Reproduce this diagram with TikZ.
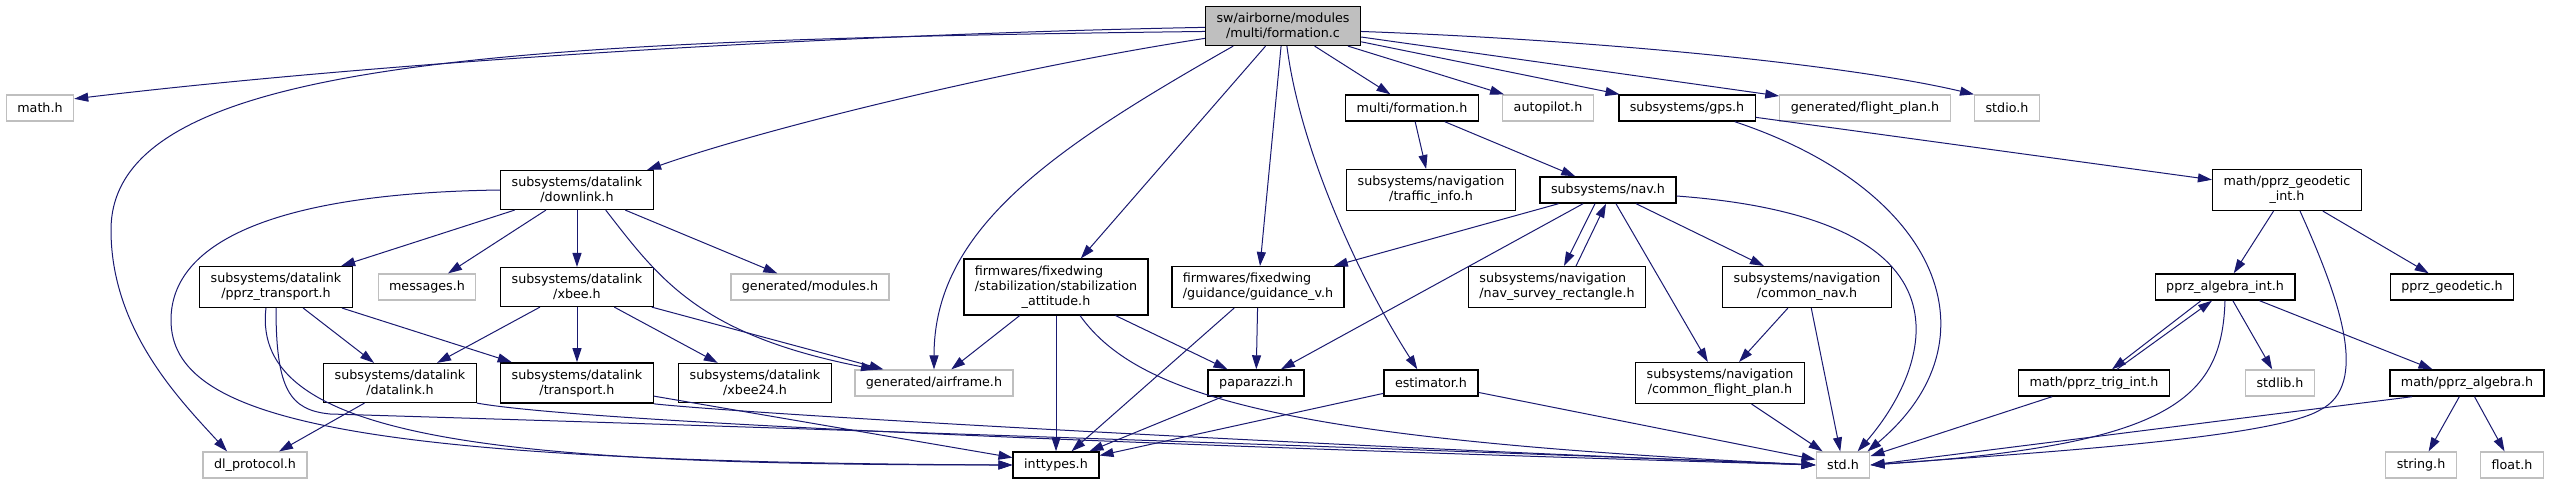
\documentclass[tikz,border=0pt]{standalone}
\usepackage{fontspec}
\setmainfont{DejaVu Sans}
\usetikzlibrary{arrows.meta}
\definecolor{edgeblue}{RGB}{25,25,112}
\definecolor{extgray}{RGB}{191,191,191}
\newcommand{\leftas}[2]{\makebox[0pt][l]{#1}\phantom{#2}}

\begin{document}
\begin{tikzpicture}[
  x=1pt, y=1pt,
  font=\fontsize{12.7}{15}\selectfont,
  >={Triangle[length=14pt,width=9pt]},
  hdr/.style={draw=black, line width=1.4pt, fill=white, align=center, inner xsep=11pt, inner ysep=6.5pt, minimum height=26pt},
  ext/.style={hdr, draw=extgray, line width=1.2pt},
  root/.style={hdr, fill=extgray},
  dep/.style={->, draw=edgeblue, line width=1pt}
]
\useasboundingbox (0,0) rectangle (2549,-484);

% source file
\node[root] (src) at (1283,-26) {sw/airborne/modules\\/multi/formation.c};

% first row
\node[ext] (mathh) at (40,-108) {math.h};
\node[hdr] (formh) at (1412,-108) {multi/formation.h};
\node[ext] (autopilot) at (1548,-108) {autopilot.h};
\node[hdr] (gps) at (1687,-108) {subsystems/gps.h};
\node[ext] (flightplan) at (1865,-108) {generated/flight\_plan.h};
\node[ext] (stdio) at (2007,-108) {stdio.h};

% second row
\node[hdr] (downlink) at (577,-190) {subsystems/datalink\\/downlink.h};
\node[hdr] (traffic) at (1431,-190) {subsystems/navigation\\/traffic\_info.h};
\node[hdr] (nav) at (1608,-190) {subsystems/nav.h};
\node[hdr] (geoint) at (2287,-190) {math/pprz\_geodetic\\\_int.h};

% third row
\node[hdr] (pprztrans) at (276,-287) {subsystems/datalink\\/pprz\_transport.h};
\node[ext] (messages) at (427,-287) {messages.h};
\node[hdr] (xbee) at (577,-287) {subsystems/datalink\\/xbee.h};
\node[ext] (modules) at (810,-287) {generated/modules.h};
\node[hdr] (stabatt) at (1056,-287) {\leftas{firmwares/fixedwing}{/stabilization/stabilization}\\/stabilization/stabilization\\\_attitude.h};
\node[hdr, align=left] (guidv) at (1258,-287) {firmwares/fixedwing\\/guidance/guidance\_v.h};
\node[hdr, align=left] (survey) at (1557,-287) {subsystems/navigation\\/nav\_survey\_rectangle.h};
\node[hdr] (commonnav) at (1807,-287) {subsystems/navigation\\/common\_nav.h};
\node[hdr] (algint) at (2225,-287) {pprz\_algebra\_int.h};
\node[hdr] (geodetic) at (2452,-287) {pprz\_geodetic.h};

% fourth row
\node[hdr] (datalink) at (400,-383) {subsystems/datalink\\/datalink.h};
\node[hdr] (transport) at (577,-383) {subsystems/datalink\\/transport.h};
\node[hdr] (xbee24) at (755,-383) {subsystems/datalink\\/xbee24.h};
\node[ext] (airframe) at (934,-383) {generated/airframe.h};
\node[hdr] (paparazzi) at (1256,-383) {paparazzi.h};
\node[hdr] (estimator) at (1431,-383) {estimator.h};
\node[hdr] (commonfp) at (1720,-383) {subsystems/navigation\\/common\_flight\_plan.h};
\node[hdr] (trigint) at (2094,-383) {math/pprz\_trig\_int.h};
\node[ext] (stdlib) at (2280,-383) {stdlib.h};
\node[hdr] (algebra) at (2467,-383) {math/pprz\_algebra.h};

% bottom row
\node[ext] (dlproto) at (255,-465) {dl\_protocol.h};
\node[hdr] (inttypes) at (1056,-465) {inttypes.h};
\node[ext] (stdh) at (1843,-465) {std.h};
\node[ext] (stringh) at (2421,-465) {string.h};
\node[ext] (floath) at (2512,-465) {float.h};

% includes of the source file
\draw[dep] (src.181.5) .. controls (850,-34) and (400,-60) .. (mathh.15);
\draw[dep] (src.184.5) .. controls (500,-40) and (111,-60) .. (111,-230) .. controls (111,-330) and (180,-400) .. (dlproto.154);
\draw[dep] (src.189.5) .. controls (1000,-70) and (760,-130) .. (downlink.16.4);
\draw[dep] (src.-158) .. controls (1050,-150) and (934,-230) .. (airframe.north);
\draw[dep] (src) -- (stabatt);
\draw[dep] (src) -- (guidv);
\draw[dep] (src.-79) .. controls (1300,-150) and (1360,-280) .. (estimator.135);
\draw[dep] (src) -- (formh);
\draw[dep] (src) -- (autopilot);
\draw[dep] (src) -- (gps);
\draw[dep] (src) -- (flightplan);
\draw[dep] (src.-4) .. controls (1600,-40) and (1850,-65) .. (stdio.north west);

% datalink headers
\draw[dep] (downlink) -- (pprztrans);
\draw[dep] (downlink) -- (messages);
\draw[dep] (downlink) -- (xbee);
\draw[dep] (downlink) -- (modules);
\draw[dep] (downlink.-35.5) .. controls (660,-280) and (700,-335) .. (airframe.167);
\draw[dep] (downlink.west) .. controls (280,-193) and (171,-240) .. (171,-320) .. controls (171,-420) and (350,-462) .. (inttypes.west);
\draw[dep] (pprztrans) -- (datalink);
\draw[dep] (pprztrans) -- (transport);
\draw[dep] ([xshift=-10pt]pprztrans.south) .. controls (250,-440) and (500,-465) .. (inttypes.west);
\draw[dep] (pprztrans.south) .. controls (276,-390) and (290,-410) .. (330,-414) .. controls (800,-428) and (1500,-452) .. (stdh.west);
\draw[dep] (xbee) -- (datalink);
\draw[dep] (xbee) -- (transport);
\draw[dep] (xbee) -- (xbee24);
\draw[dep] (xbee) -- (airframe);
\draw[dep] (datalink) -- (dlproto);
\draw[dep] (datalink.south east) .. controls (600,-425) and (1300,-450) .. (stdh.west);
\draw[dep] (transport) -- (inttypes);
\draw[dep] (transport.south east) .. controls (760,-415) and (1300,-445) .. (stdh.west);

% firmware headers
\draw[dep] (stabatt) -- (airframe);
\draw[dep] (stabatt) -- (inttypes);
\draw[dep] (stabatt) -- (paparazzi);
\draw[dep] ([xshift=24pt]stabatt.south) .. controls (1140,-400) and (1300,-440) .. (stdh.west);
\draw[dep] (guidv) -- (paparazzi);
\draw[dep] (guidv) -- (inttypes);
\draw[dep] (paparazzi) -- (inttypes);
\draw[dep] (estimator) -- (inttypes);
\draw[dep] (estimator) -- (stdh);

% navigation
\draw[dep] (formh) -- (traffic);
\draw[dep] (formh) -- (nav);
\draw[dep] (nav) -- (guidv);
\draw[dep] (nav) -- (paparazzi);
\draw[dep] ([xshift=-13pt]nav.south) -- ([xshift=7pt]survey.north);
\draw[dep] ([xshift=19pt]survey.north) -- ([xshift=-2pt]nav.south);
\draw[dep] (nav) -- (commonnav);
\draw[dep] (nav) -- (commonfp);
\draw[dep] (nav.-5) .. controls (2000,-220) and (1920,-380) .. (stdh.43);
\draw[dep] (commonnav) -- (commonfp);
\draw[dep] (commonnav) -- (stdh);
\draw[dep] (commonfp) -- (stdh);

% gps and math
\draw[dep] (gps.-16.8) .. controls (1940,-190) and (2000,-340) .. (stdh.29.5);
\draw[dep] (gps) -- (geoint);
\draw[dep] (geoint) -- (algint);
\draw[dep] (geoint) -- (geodetic);
\draw[dep] ([xshift=13pt]geoint.south) .. controls (2340,-300) and (2370,-385) .. (2320,-410) .. controls (2270,-440) and (2000,-455) .. (stdh.east);
\draw[dep] ([xshift=-24pt]algint.south) -- ([xshift=18pt]trigint.north);
\draw[dep] ([xshift=23pt]trigint.north) -- ([xshift=-13pt]algint.south);
\draw[dep] (algint) -- (stdlib);
\draw[dep] (algint) -- (algebra);
\draw[dep] (algint.south) .. controls (2222,-400) and (2170,-445) .. (stdh.east);
\draw[dep] (trigint) -- (stdh);
\draw[dep] ([xshift=-55pt]algebra.south) -- (stdh.east);
\draw[dep] (algebra) -- (stringh);
\draw[dep] (algebra) -- (floath);
\end{tikzpicture}
\end{document}
